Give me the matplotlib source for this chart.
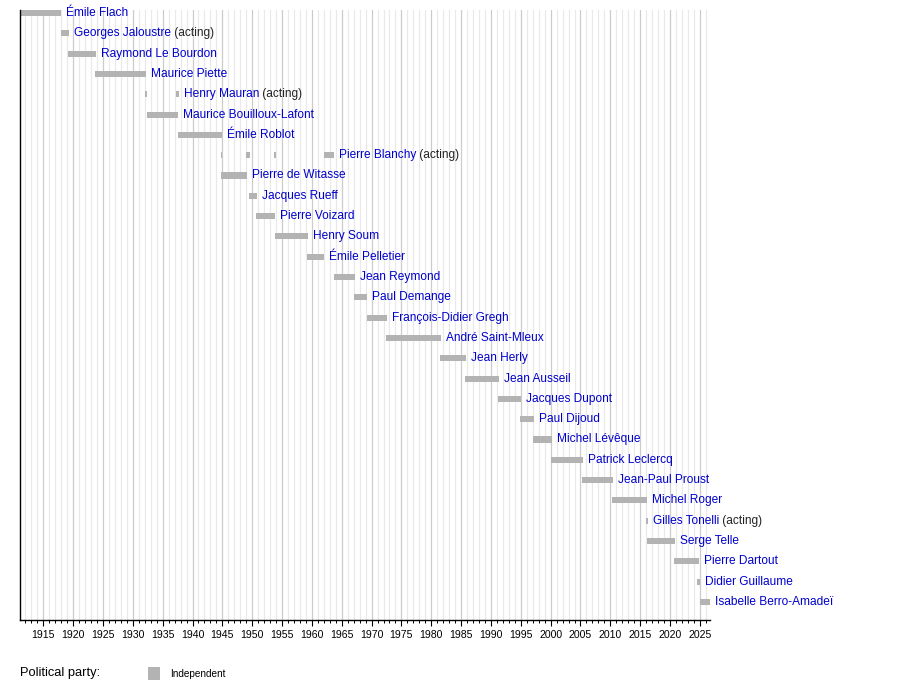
import numpy as np
import matplotlib
matplotlib.use("Agg")
import matplotlib.pyplot as plt
from matplotlib.patches import Rectangle

# office holders, top to bottom
names = [
    "Émile Flach", "Georges Jaloustre", "Raymond Le Bourdon", "Maurice Piette",
    "Henry Mauran", "Maurice Bouilloux-Lafont", "Émile Roblot", "Pierre Blanchy",
    "Pierre de Witasse", "Jacques Rueff", "Pierre Voizard", "Henry Soum",
    "Émile Pelletier", "Jean Reymond", "Paul Demange", "François-Didier Gregh",
    "André Saint-Mleux", "Jean Herly", "Jean Ausseil", "Jacques Dupont",
    "Paul Dijoud", "Michel Lévêque", "Patrick Leclercq", "Jean-Paul Proust",
    "Michel Roger", "Gilles Tonelli", "Serge Telle", "Pierre Dartout",
    "Didier Guillaume", "Isabelle Berro-Amadeï",
]
acting = [
    False, True, False, False, True, False, False, True,
    False, False, False, False, False, False, False, False,
    False, False, False, False, False, False, False, False,
    False, True, False, False, False, False,
]
# terms in office (start year, end year), several for some rows
terms = [
    [(1911.1, 1918.0)],
    [(1917.9, 1919.3)],
    [(1919.2, 1923.8)],
    [(1923.7, 1932.2)],
    [(1932.0, 1932.4), (1937.3, 1937.7)],
    [(1932.4, 1937.6)],
    [(1937.6, 1944.9)],
    [(1944.8, 1944.95), (1949.0, 1949.6), (1953.7, 1953.95), (1962.1, 1963.7)],
    [(1944.8, 1949.1)],
    [(1949.5, 1950.8)],
    [(1950.6, 1953.8)],
    [(1953.8, 1959.3)],
    [(1959.2, 1962.1)],
    [(1963.7, 1967.2)],
    [(1967.0, 1969.3)],
    [(1969.2, 1972.6)],
    [(1972.4, 1981.6)],
    [(1981.5, 1985.8)],
    [(1985.6, 1991.3)],
    [(1991.2, 1995.0)],
    [(1994.9, 1997.2)],
    [(1997.0, 2000.2)],
    [(2000.1, 2005.4)],
    [(2005.2, 2010.4)],
    [(2010.3, 2016.1)],
    [(2016.0, 2016.3)],
    [(2016.1, 2020.8)],
    [(2020.6, 2024.8)],
    [(2024.6, 2025.1)],
    [(2025.1, 2026.7)],
]
year_min, year_max = 1911.1, 2026.7
party_name = "Independent"

bar_color = "#b3b3b3"
name_color = "#0000cc"
plt.rcParams["font.family"] = ["Liberation Sans", "DejaVu Sans"]

fig = plt.figure(figsize=(9, 6.99), dpi=100)
ax = fig.add_axes([20 / 900, 1 - 620 / 699, 690 / 900, 610 / 699])

ax.set_xlim(year_min, year_max)
ax.set_ylim(29.89, -0.15)

# vertical grid, minor every year and major every 5 years
for yr in range(1912, 2027):
    c = "#cccccc" if yr % 5 == 0 else "#e9e9e9"
    ax.axvline(yr, color=c, linewidth=0.9, zorder=0)

for i, (name, act, segs) in enumerate(zip(names, acting, terms)):
    for s, e in segs:
        ax.barh(i, e - s, left=s, height=0.3, color=bar_color, linewidth=0, zorder=2)
    last_end = segs[-1][1]
    t = ax.annotate(name, xy=(last_end, i), xytext=(3.5, 0), textcoords="offset points",
                    va="center", ha="left", fontsize=8.6, color=name_color, zorder=3)
    if act:
        ax.annotate(" (acting)", xy=(1, 0.5), xycoords=t, va="center", ha="left",
                    fontsize=8.6, color="#222222")

ax.set_xticks(np.arange(1915, 2026, 5))
ax.set_xticks(np.arange(1912, 2027, 1), minor=True)
ax.tick_params(axis="x", which="major", length=4, width=0.8, direction="out",
               labelsize=7.6, pad=3, colors="black")
ax.tick_params(axis="x", which="minor", length=2, width=0.7, direction="out")
ax.set_yticks([])
for side in ["top", "right"]:
    ax.spines[side].set_visible(False)
ax.spines["left"].set_linewidth(1.0)
ax.spines["bottom"].set_linewidth(1.0)

# legend
fig.text(20 / 900, 1 - 673 / 699, "Political party:", fontsize=9.3, va="center", ha="left")
fig.patches.append(Rectangle((148 / 900, 1 - 680 / 699), 12 / 900, 13 / 699,
                             transform=fig.transFigure, color=bar_color, linewidth=0))
fig.text(170 / 900, 1 - 674 / 699, party_name, fontsize=7.2, va="center", ha="left")

fig.savefig("out.png", dpi=100)
